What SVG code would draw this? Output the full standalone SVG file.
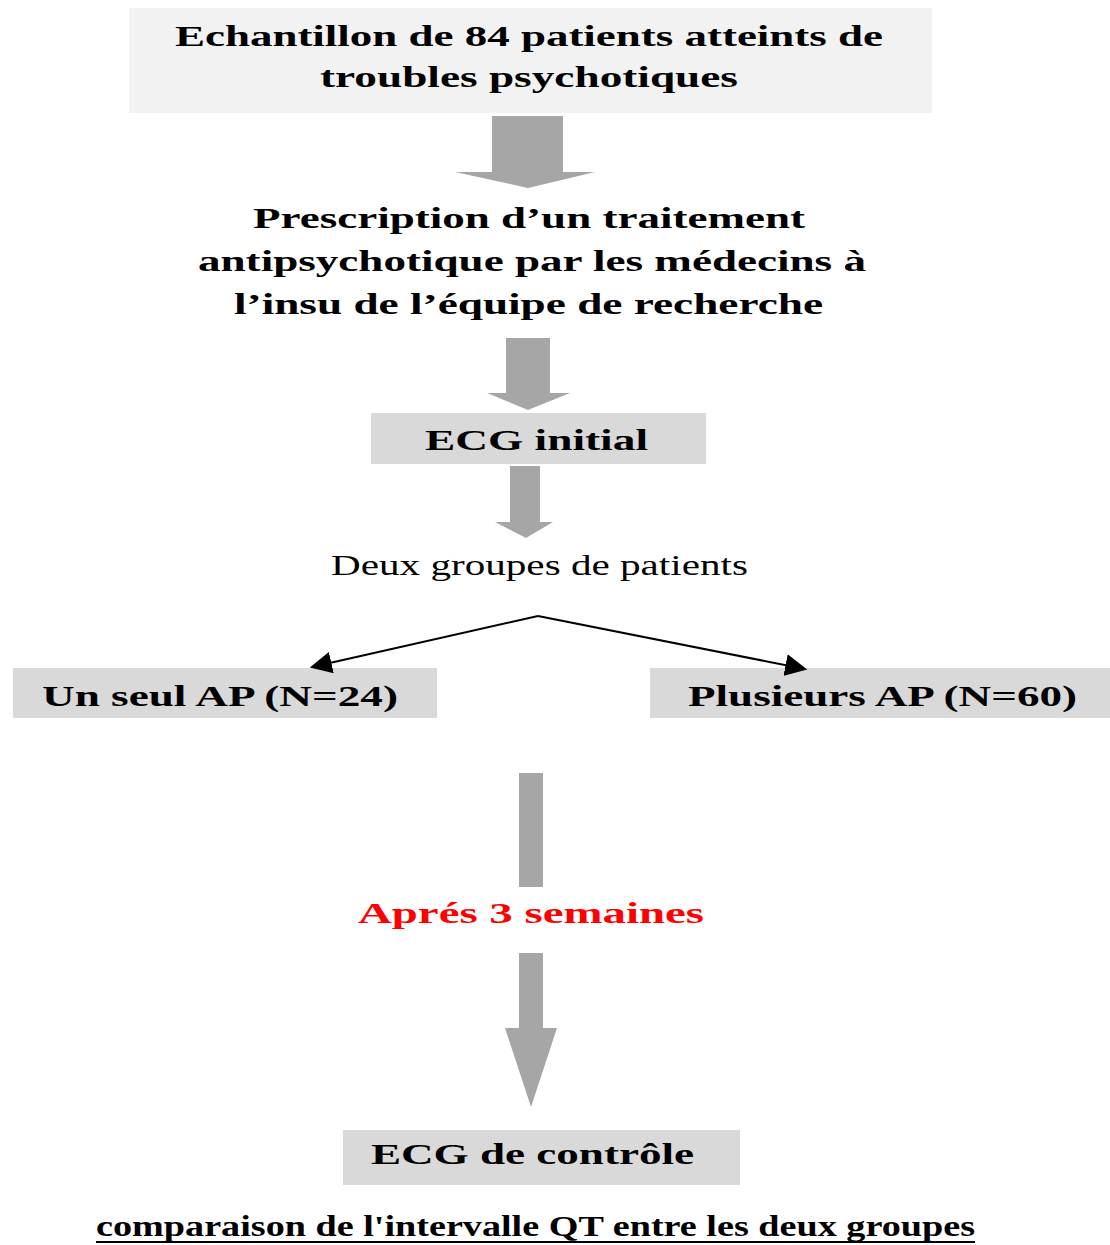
<svg xmlns="http://www.w3.org/2000/svg" width="1110" height="1245" viewBox="0 0 1110 1245">
<style>
.t{font-family:"Liberation Serif","Times New Roman",serif;font-weight:bold;font-size:29px;fill:#000}
.n{font-family:"Liberation Serif","Times New Roman",serif;font-size:29px;fill:#000}
.box{fill:#d9d9d9}
.arr{fill:#a6a6a6}
</style>
<defs>
<marker id="ah" viewBox="0 0 10 10" refX="9" refY="5" markerWidth="22" markerHeight="22" markerUnits="userSpaceOnUse" orient="auto">
<path d="M0,0 L10,5 L0,10 z" fill="#000"/>
</marker>
</defs>
<rect width="1110" height="1245" fill="#fff"/>
<g id="n1">
<rect x="129" y="8" width="803" height="105" fill="#f2f2f2"/>
<text class="t" x="175" y="46" textLength="708" lengthAdjust="spacingAndGlyphs">Echantillon de 84 patients atteints de</text>
<text class="t" x="320" y="87" textLength="418" lengthAdjust="spacingAndGlyphs">troubles psychotiques</text>
</g>
<g id="n2">
<text class="t" x="253" y="228" textLength="552" lengthAdjust="spacingAndGlyphs">Prescription d’un traitement</text>
<text class="t" x="198" y="271" textLength="668" lengthAdjust="spacingAndGlyphs">antipsychotique par les médecins à</text>
<text class="t" x="234" y="314" textLength="589" lengthAdjust="spacingAndGlyphs">l’insu de l’équipe de recherche</text>
</g>
<g id="n3">
<rect class="box" x="371" y="413" width="335" height="51"/>
<text class="t" x="425" y="450" textLength="223" lengthAdjust="spacingAndGlyphs">ECG initial</text>
</g>
<g id="n4">
<text class="n" x="331" y="575" textLength="417" lengthAdjust="spacingAndGlyphs">Deux groupes de patients</text>
</g>
<g id="n5">
<rect class="box" x="13" y="668" width="424" height="50"/>
<text class="t" x="42" y="706" textLength="356" lengthAdjust="spacingAndGlyphs">Un seul AP (N=24)</text>
</g>
<g id="n6">
<rect class="box" x="650" y="668" width="460" height="50"/>
<text class="t" x="688" y="706" textLength="389" lengthAdjust="spacingAndGlyphs">Plusieurs AP (N=60)</text>
</g>
<g id="n7">
<text class="t" x="358" y="923" textLength="346" lengthAdjust="spacingAndGlyphs" style="fill:#ff0000">Aprés 3 semaines</text>
</g>
<g id="n8">
<rect class="box" x="343" y="1130" width="397" height="55"/>
<text class="t" x="371" y="1164" textLength="323" lengthAdjust="spacingAndGlyphs">ECG de contrôle</text>
</g>
<g id="n9">
<text class="t" x="96" y="1236" textLength="879" lengthAdjust="spacingAndGlyphs">comparaison de l'intervalle QT entre les deux groupes</text>
<line x1="96" y1="1242" x2="975" y2="1242" stroke="#000" stroke-width="2"/>
</g>
<g id="connectors">
<path class="arr" d="M492,116 H563 V172 H595 L528,188 L455,172 H492 Z"/>
<path class="arr" d="M506,338 H550 V393 H570 L528,410 L487,393 H506 Z"/>
<path class="arr" d="M510,466 H540 V522 H553 L526,538 L495,522 H510 Z"/>
<rect class="arr" x="519" y="773" width="24" height="114"/>
<path class="arr" d="M519,953 H543 V1028 H557 L531,1107 L505,1028 H519 Z"/>
<line x1="538" y1="616" x2="312" y2="667" stroke="#000" stroke-width="2" marker-end="url(#ah)"/>
<line x1="538" y1="616" x2="805" y2="669" stroke="#000" stroke-width="2" marker-end="url(#ah)"/>
</g>
</svg>
